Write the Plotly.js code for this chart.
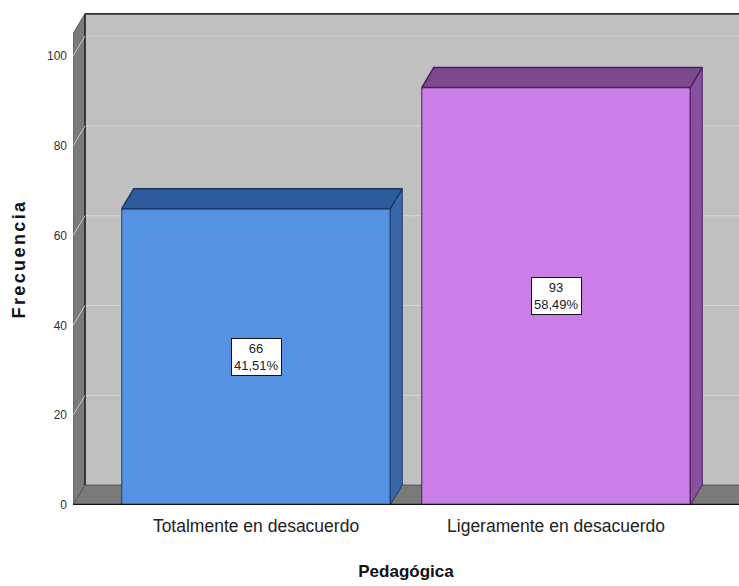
<!DOCTYPE html>
<html>
<head>
<meta charset="utf-8">
<script src="https://cdn.plot.ly/plotly-3.0.1.min.js"></script>
<style>html,body{margin:0;padding:0;background:#fff;}#chart{width:739px;height:586px;}
.g-ytitle text{letter-spacing:2.4px;}</style>
</head>
<body>
<div id="chart"></div>
<script>
// ---- data ----
const categories = ["Totalmente en desacuerdo", "Ligeramente en desacuerdo"];
const frecuencias = [66, 93];
const porcentajes = ["41,51%", "58,49%"];
const yTicks = [0, 20, 40, 60, 80, 100];

// ---- style / geometry (axis units) ----
const frontColors = ["#5592e1", "#c97fe6"];
const topColors = ["#2e5b9c", "#7d4a8e"];
const sideColors = ["#3a67aa", "#8a50a0"];
const edgeColors = ["#1d3a66", "#4a1f5c"];
const X0 = -0.61, X1 = 1.61;      // x range (front plane)
const YMAX = 109.6;               // y range top
const DX = 0.04, DY = 4.44;       // 3D depth offset
const WALL = 105;                 // wall height (front plane)
const BW = 0.895;                 // bar width
const xs = categories.map((c, i) => i);
const FONT = "Liberation Sans, Arial, sans-serif";

function pathOf(px, py) {
  return "M" + px.map((x, k) => x + "," + py[k]).join(" L") + " Z";
}
const shapes = [];
function bgPoly(px, py, fill, line, lw) {
  shapes.push({type: "path", xref: "x", yref: "y", layer: "below", path: pathOf(px, py),
    fillcolor: fill, line: {color: line, width: lw}});
}
function bgLine(x0, y0, x1, y1, color, w, layer) {
  shapes.push({type: "line", xref: "x", yref: "y", layer: layer || "below",
    x0: x0, y0: y0, x1: x1, y1: y1, line: {color: color, width: w}});
}

// back wall
bgPoly([X0 + DX, X1 + DX, X1 + DX, X0 + DX], [DY, DY, WALL + DY, WALL + DY], "#c0c0c0", "#c0c0c0", 0);
// gridlines on back wall
yTicks.forEach(v => { if (v > 0) bgLine(X0 + DX, v + DY, X1 + DX, v + DY, "#d4d4d4", 1); });
// top edge of back wall
bgLine(X0 + DX, WALL + DY, X1 + DX, WALL + DY, "#333333", 2);
// floor
bgPoly([X0, X1 + DX, X1 + DX, X0 + DX], [0, 0, DY, DY], "#7a7a7a", "#555555", 1);
// left side wall
bgPoly([X0, X0, X0 + DX, X0 + DX], [0, WALL, WALL + DY, DY], "#7a7a7a", "#5a5a5a", 1);
bgLine(X0 + DX, DY, X0 + DX, WALL + DY, "#222222", 1.5);
yTicks.forEach(v => { if (v > 0) bgLine(X0, v, X0 + DX, v + DY, "#c8c8c8", 1); });
// front baseline
bgLine(X0, 0, X1, 0, "#111111", 2.5, "above");

const traces = [];
// front faces (bars)
traces.push({type: "bar", x: xs, y: frecuencias, width: BW,
  marker: {color: frontColors, line: {color: edgeColors, width: 1}},
  hoverinfo: "skip", showlegend: false});
// 3D bar side & top faces
function poly(px, py, fill, line, lw) {
  traces.push({type: "scatter", mode: "lines", x: px.concat([px[0]]), y: py.concat([py[0]]),
    fill: "toself", fillcolor: fill, line: {color: line, width: lw},
    hoverinfo: "skip", showlegend: false});
}
xs.forEach((c, i) => {
  const v = frecuencias[i], l = c - BW / 2, r = c + BW / 2;
  poly([r, r + DX, r + DX, r], [0, DY, v + DY, v], sideColors[i], edgeColors[i], 1);
  poly([l, r, r + DX, l + DX], [v, v, v + DY, v + DY], topColors[i], edgeColors[i], 1.5);
});

const annotations = xs.map((c, i) => ({
  x: c, y: frecuencias[i] / 2, xref: "x", yref: "y",
  text: frecuencias[i] + "<br>" + porcentajes[i], showarrow: false,
  bgcolor: "#ffffff", bordercolor: "#111111", borderwidth: 1, borderpad: 2,
  font: {family: FONT, size: 13, color: "#222"}
}));

const layout = {
  width: 739, height: 586,
  margin: {l: 73, r: 0, t: 13, b: 81},
  paper_bgcolor: "#ffffff", plot_bgcolor: "#ffffff",
  showlegend: false,
  bargap: 0,
  xaxis: {range: [X0, X1], tickvals: xs, ticktext: categories, showgrid: false, zeroline: false,
    showline: false, ticks: "", fixedrange: true, ticklabelstandoff: 8,
    tickfont: {family: FONT, size: 17.5, color: "#222"},
    title: {text: "<b>Pedagógica</b>", font: {family: FONT, size: 17, color: "#111"}, standoff: 30}},
  yaxis: {range: [0, YMAX], tickvals: yTicks, showgrid: false, zeroline: false, showline: false,
    ticks: "", fixedrange: true, ticklabelstandoff: 5,
    tickfont: {family: FONT, size: 12, color: "#333"},
    title: {text: "<b>Frecuencia</b>", font: {family: FONT, size: 18, color: "#111"}, standoff: 16}},
  shapes: shapes,
  annotations: annotations
};

Plotly.newPlot("chart", traces, layout, {displayModeBar: false, staticPlot: true});
</script>
</body>
</html>
